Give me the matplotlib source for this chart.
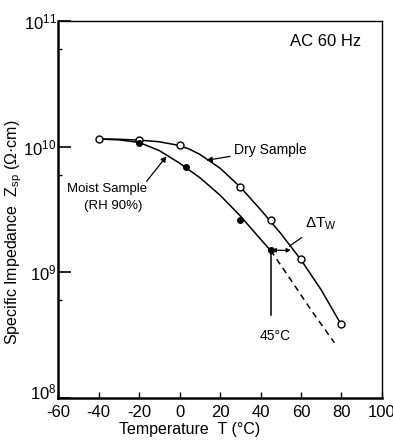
import numpy as np
import matplotlib
matplotlib.use("Agg")
import matplotlib.pyplot as plt
import matplotlib.transforms as mtransforms
from matplotlib.ticker import FixedLocator, NullFormatter

plt.rcParams['font.family'] = ['Liberation Sans', 'DejaVu Sans']
plt.rcParams['mathtext.fontset'] = 'custom'
plt.rcParams['mathtext.rm'] = 'Liberation Sans'
plt.rcParams['mathtext.it'] = 'Liberation Sans'

# measured points
dry_t = [-40, -20, 0, 30, 45, 60, 80]
dry_z = [1.15e10, 1.13e10, 1.03e10, 4.8e9, 2.6e9, 1.27e9, 3.85e8]
moist_t = [-40, -20, 3, 30, 45]
moist_z = [1.15e10, 1.08e10, 6.9e9, 2.6e9, 1.5e9]

# curves (log10 Zsp)
dry_curve_t = [-40, -30, -20, -10, 0, 5, 10, 20, 30, 40, 50, 60, 70, 80]
dry_curve_log = [10.062, 10.06, 10.053, 10.04, 10.01, 9.98, 9.94, 9.83, 9.68, 9.50, 9.31, 9.10, 8.86, 8.58]
moist_curve_t = [-40, -30, -20, -10, 0, 10, 20, 30, 40, 45]
moist_curve_log = [10.062, 10.055, 10.035, 9.97, 9.87, 9.755, 9.615, 9.45, 9.265, 9.175]
dash_t = [45, 55, 65, 76.5]
dash_log = [9.175, 8.94, 8.70, 8.44]

fig = plt.figure(figsize=(3.93, 4.41), dpi=100)
ax = fig.add_axes([0.1476, 0.0975, 0.8244, 0.8545])

lw = 1.1
ax.plot(dry_curve_t, 10 ** np.array(dry_curve_log), color='black', lw=lw)
ax.plot(moist_curve_t, 10 ** np.array(moist_curve_log), color='black', lw=lw)
ax.plot(dash_t, 10 ** np.array(dash_log), color='black', lw=lw, ls=(0, (4, 3)))
ax.plot(dry_t, dry_z, 'o', mfc='white', mec='black', mew=1.0, ms=5, zorder=4)
ax.plot(moist_t[1:], moist_z[1:], 'o', mfc='black', mec='black', ms=4, zorder=4)

ax.set_yscale('log')
ax.set_xlim(-60, 100)
ax.set_ylim(1e8, 1e11)

ax.set_xticks([-60, -40, -20, 0, 20, 40, 60, 80, 100])
ax.set_xticklabels(['-60', '-40', '-20', '0', '20', '40', '60', '80', '100'], fontsize=12)
ax.yaxis.set_major_locator(FixedLocator([1e8, 1e9, 1e10, 1e11]))
ax.set_yticklabels([r'$10^8$', r'$10^9$', r'$10^{10}$', r'$10^{11}$'], fontsize=12)
ax.yaxis.set_minor_locator(FixedLocator([6e8, 6e9, 6e10]))
ax.yaxis.set_minor_formatter(NullFormatter())
ax.tick_params(axis='x', direction='in', length=4, width=1, pad=5)
ax.tick_params(axis='y', which='major', direction='in', length=9, width=1.2, pad=1)
ax.tick_params(axis='y', which='minor', direction='in', length=3, width=1)

# nudge the 10^8 label up so it clears the -60 label
lab8 = ax.get_yticklabels()[0]
lab8.set_transform(lab8.get_transform() +
                   mtransforms.ScaledTranslation(0, 5 / 72, fig.dpi_scale_trans))

for s in ['left', 'bottom']:
    ax.spines[s].set_linewidth(1.8)
for s in ['top', 'right']:
    ax.spines[s].set_linewidth(1.0)

ax.set_xlabel('Temperature  T (°C)', fontsize=11.5)
ax.xaxis.set_label_coords(0.407, -0.064)
ax.set_ylabel('Specific Impedance  $\\mathrm{Z_{sp}}$ ($\\Omega$·cm)', fontsize=11.5)
ax.yaxis.set_label_coords(-0.105, 0.44)

ax.text(72, 6.9e10, 'AC 60 Hz', fontsize=12, ha='center', va='center')

# Dry sample label
ax.annotate('Dry Sample', xy=(13.3, 7.8e9), xytext=(27, 9.5e9), fontsize=10,
            ha='left', va='center',
            arrowprops=dict(arrowstyle='-|>', color='black', lw=0.9, mutation_scale=8,
                            shrinkA=1, shrinkB=0))
# Moist sample label
ax.annotate('', xy=(-6.4, 8.4e9), xytext=(-16.3, 5.3e9),
            arrowprops=dict(arrowstyle='-|>', color='black', lw=0.9, mutation_scale=8,
                            shrinkA=0, shrinkB=0))
ax.text(-36, 4.6e9, 'Moist Sample', fontsize=9.5, ha='center', va='center')
ax.text(-32.6, 3.35e9, '(RH 90%)', fontsize=9.5, ha='center', va='center')

# delta T_w arrow
ax.annotate('', xy=(45.5, 1.5e9), xytext=(55, 1.5e9),
            arrowprops=dict(arrowstyle='<|-|>', color='black', lw=0.9, mutation_scale=6,
                            shrinkA=0, shrinkB=0))
ax.annotate('$\\Delta\\mathrm{T_W}$', xy=(54.3, 1.62e9), xytext=(62, 2.42e9), fontsize=11,
            ha='left', va='center',
            arrowprops=dict(arrowstyle='-', color='black', lw=0.9, shrinkA=3, shrinkB=0))

# 45 C line
ax.plot([45, 45], [1.5e9, 4.6e8], color='black', lw=lw)
ax.text(47.4, 3.1e8, '45°C', fontsize=10, ha='center', va='center')

fig.savefig('out.png', dpi=100)
